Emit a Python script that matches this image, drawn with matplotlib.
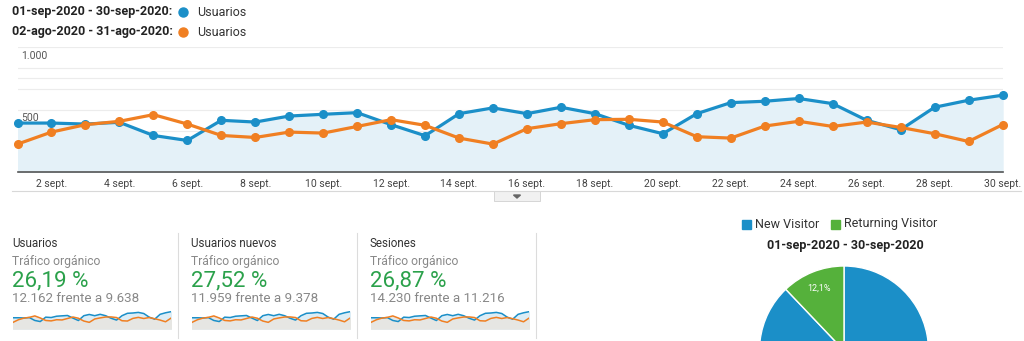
import matplotlib.pyplot as plt
from matplotlib.patches import Rectangle, Polygon

plt.rcParams["font.family"] = ["Roboto", "DejaVu Sans"]

# daily users
DAYS = list(range(1, 31))
USERS_SEP = [393, 393, 385, 399, 294, 254, 415, 401, 449, 463, 476, 380, 292, 468, 514,
             468, 519, 468, 375, 308, 468, 556, 567, 589, 548, 415, 340, 519, 575, 615]
USERS_AUG = [225, 321, 380, 407, 460, 385, 294, 278, 321, 313, 366, 420, 375, 273, 225,
             348, 388, 420, 423, 401, 284, 273, 369, 407, 366, 401, 358, 308, 246, 380]
TICK_DAYS = DAYS[1::2]
TICK_LABELS = [f"{d} sept." for d in TICK_DAYS]
Y_TICKS = [500, 1000]
Y_LABELS = ["500", "1.000"]
GRID_MINOR = [167, 250, 333, 667, 750, 833]

PERIOD_SEP = "01-sep-2020 - 30-sep-2020"
PERIOD_AUG = "02-ago-2020 - 31-ago-2020"
METRIC = "Usuarios"

CARD_TITLES = ["Usuarios", "Usuarios nuevos", "Sesiones"]
CARD_SEGMENT = "Tráfico orgánico"
CARD_CHANGE = ["26,19 %", "27,52 %", "26,87 %"]
CARD_COMPARE = ["12.162 frente a 9.638", "11.959 frente a 9.378", "14.230 frente a 11.216"]

PIE_LABELS = ["New Visitor", "Returning Visitor"]
PIE_SHARES = [87.9, 12.1]

BLUE = "#1b8fc8"
ORANGE = "#f07f22"
GREEN = "#55b13b"
FILL = "#e4f1f8"

W, H = 1024, 341
fig = plt.figure(figsize=(W / 100, H / 100), dpi=100)


def px_axes(x0, y0, x1, y1):
    # axes from pixel box (top-left origin)
    return fig.add_axes([x0 / W, (H - y1) / H, (x1 - x0) / W, (y1 - y0) / H])


# overlay in pixel coords for text / decorations
bg = fig.add_axes([0, 0, 1, 1])
bg.set_xlim(0, W)
bg.set_ylim(H, 0)
bg.axis("off")

# --- top legend ---
for row, (label, col) in enumerate([(PERIOD_SEP, BLUE), (PERIOD_AUG, ORANGE)]):
    y = 12 + 20 * row
    bg.text(12, y, label + ":", fontsize=9, fontweight="bold", color="#222", va="center")
    bg.plot([183], [y - 0.5], "o", ms=6.5, color=col)
    bg.text(197, y, METRIC, fontsize=9, color="#333", va="center")

# --- main line chart ---
ax = px_axes(17.5, 47, 1002.5, 172.3)
ax.set_xlim(1, 30)
ax.set_ylim(0, 1000)
for g in GRID_MINOR + Y_TICKS:
    ax.axhline(g, color="#ececec", lw=0.8, zorder=0)
ax.fill_between(DAYS, USERS_SEP, color=FILL, zorder=1)
ax.plot(DAYS, USERS_SEP, "-o", color=BLUE, lw=2.3, ms=5.5, zorder=3, clip_on=False)
ax.plot(DAYS, USERS_AUG, "-o", color=ORANGE, lw=2.3, ms=5.5, zorder=4, clip_on=False)
for v, lab in zip(Y_TICKS, Y_LABELS):
    ax.text(1.12, v - 28, lab, fontsize=7.5, color="#555", va="top", ha="left", zorder=5)
ax.set_yticks([])
ax.set_xticks(TICK_DAYS)
ax.set_xticklabels(TICK_LABELS, fontsize=7.5, color="#444")
ax.tick_params(axis="x", length=0, pad=5)
for s in ["top", "left", "right"]:
    ax.spines[s].set_visible(False)
ax.spines["bottom"].set_color("#555")
ax.spines["bottom"].set_linewidth(1.2)
ax.patch.set_visible(False)

# separator line + collapse button
bg.plot([12, 1021], [190.5, 190.5], color="#d8d8d8", lw=0.8)
bg.add_patch(Rectangle((494, 191), 46, 9.5, facecolor="#f1f1f1", edgecolor="#d0d0d0", lw=0.6))
bg.add_patch(Polygon([[513.5, 195], [520.5, 195], [517, 198]], closed=True, color="#666"))

# --- scorecards ---
for i, title in enumerate(CARD_TITLES):
    x0 = 12 + 179 * i
    bg.text(x0, 243.5, title, fontsize=8.4, color="#333", va="center")
    bg.text(x0, 261, CARD_SEGMENT, fontsize=8.7, color="#888", va="center")
    bg.text(x0, 280.5, CARD_CHANGE[i], fontsize=16, color="#2ba14b", va="center")
    bg.text(x0, 299, CARD_COMPARE[i], fontsize=9.6, color="#888", va="center")
    bg.plot([x0 + 166, x0 + 166], [233, 338], color="#dcdcdc", lw=0.8)

    sp = px_axes(x0 + 1, 311, x0 + 159, 328.5)
    sp.set_xlim(1, 30)
    sp.set_ylim(0, 640)
    sp.fill_between(DAYS, USERS_SEP, color="#dcedf6", zorder=1)
    sp.fill_between(DAYS, USERS_AUG, color="#e6e6e3", zorder=2)
    sp.plot(DAYS, USERS_SEP, color=BLUE, lw=1.1, zorder=3)
    sp.plot(DAYS, USERS_AUG, color=ORANGE, lw=1.1, zorder=4)
    sp.axis("off")

# --- pie ---
cx, cy, r = 844, 350.5, 84.5
pax = px_axes(cx - r, cy - r, cx + r, cy + r)
# only the small slice label is within view
pax.pie(PIE_SHARES, colors=[BLUE, GREEN], startangle=90, counterclock=False, radius=1,
        wedgeprops=dict(edgecolor="white", linewidth=1),
        autopct=lambda p: f"{p:.1f}%".replace(".", ",") if p < 50 else "", pctdistance=0.8,
        textprops=dict(color="white", fontsize=6.5))
pax.set_xlim(-1, 1)
pax.set_ylim(-1, 1)
pax.set_aspect("auto")

for lab, col, xs in zip(PIE_LABELS, [BLUE, GREEN], [742, 830.5]):
    bg.add_patch(Rectangle((xs, 219.5), 9, 9, color=col))
    bg.text(xs + 13, 224, lab, fontsize=9, color="#333", va="center")
bg.text(845, 245.5, PERIOD_SEP, fontsize=9, fontweight="bold", color="#222", va="center", ha="center")

fig.savefig("out.png", dpi=100)
